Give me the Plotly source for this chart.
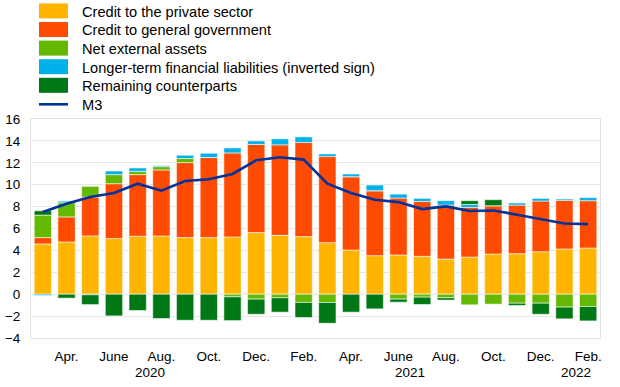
import plotly.graph_objects as go

months = ["Mar 2020", "Apr 2020", "May 2020", "Jun 2020", "Jul 2020", "Aug 2020",
          "Sep 2020", "Oct 2020", "Nov 2020", "Dec 2020", "Jan 2021", "Feb 2021",
          "Mar 2021", "Apr 2021", "May 2021", "Jun 2021", "Jul 2021", "Aug 2021",
          "Sep 2021", "Oct 2021", "Nov 2021", "Dec 2021", "Jan 2022", "Feb 2022"]

private_sector = [4.59, 4.77, 5.32, 5.08, 5.29, 5.32, 5.17, 5.17, 5.23, 5.63, 5.38, 5.26,
                  4.71, 4.04, 3.52, 3.58, 3.46, 3.21, 3.39, 3.67, 3.70, 3.88, 4.13, 4.22]
general_government = [0.58, 2.29, 3.55, 5.01, 5.63, 6.03, 6.85, 7.31, 7.67, 8.04, 8.26, 8.59,
                      7.86, 6.69, 5.93, 5.20, 5.01, 4.93, 4.54, 4.41, 4.44, 4.63, 4.44, 4.32]
net_external_assets = [2.05, 1.29, 0.98, 0.83, 0.30, 0.30, 0.37, 0.00, -0.24, -0.45, -0.33, -0.75,
                       -0.76, 0.00, 0.00, -0.45, -0.27, -0.33, -0.97, -0.91, -0.82, -0.82, -1.18, -1.12]
longer_term_liab = [-0.12, 0.15, -0.05, 0.33, 0.31, 0.09, 0.30, 0.39, 0.46, 0.33, 0.55, 0.52,
                    0.24, 0.25, 0.52, 0.36, 0.28, 0.40, 0.27, 0.00, 0.19, 0.24, 0.12, 0.28]
remaining = [0.40, -0.36, -0.90, -1.98, -1.49, -2.22, -2.38, -2.38, -2.17, -1.38, -1.31, -1.38,
             -1.89, -1.64, -1.34, -0.28, -0.67, -0.21, 0.34, 0.55, -0.21, -1.01, -1.07, -1.32]
m3 = [7.50, 8.25, 8.87, 9.24, 10.09, 9.45, 10.34, 10.49, 10.98, 12.23, 12.50, 12.29,
      10.09, 9.24, 8.62, 8.41, 7.77, 8.02, 7.60, 7.65, 7.26, 6.86, 6.46, 6.40]

tick_labels = ["Apr.", "June", "Aug.", "Oct.", "Dec.", "Feb.",
               "Apr.", "June", "Aug.", "Oct.", "Dec.", "Feb."]
years = ["2020", "2021", "2022"]
year_centers = [4.5, 15.5, 22.5]

series_names = ["Credit to the private sector", "Credit to general government",
                "Net external assets", "Longer-term financial liabilities (inverted sign)",
                "Remaining counterparts"]
series_values = [private_sector, general_government, net_external_assets,
                 longer_term_liab, remaining]
colors = ["#FFB400", "#FF4B00", "#65B800", "#00B1EA", "#007816"]
m3_color = "#003299"

x = list(range(len(months)))
FONT = "Liberation Sans, Arial, sans-serif"

fig = go.Figure()
for name, vals, col in zip(series_names, series_values, colors):
    fig.add_trace(go.Bar(x=x, y=vals, name=name, marker_color=col,
                         marker_line_color="rgba(255,255,255,0.7)", marker_line_width=0.8,
                         showlegend=False, hovertext=months))
fig.add_trace(go.Scatter(x=x, y=m3, name="M3", mode="lines",
                         line=dict(color=m3_color, width=2.6), showlegend=False))

W, H = 620, 387
L, R, T, B = 31, 20, 119, 49
pw, ph = W - L - R, H - T - B


def px(v):
    return (v - L) / pw


def py(v):
    return (H - B - v) / ph


shapes = []
annotations = []
row_text_y = [11.7, 30.3, 48.9, 67.5, 86.1, 104.5]
for i, (name, col) in enumerate(zip(series_names, colors)):
    cy = row_text_y[i] - 0.8
    shapes.append(dict(type="rect", xref="paper", yref="paper",
                       x0=px(39), x1=px(68), y0=py(cy + 7.5), y1=py(cy - 7.5),
                       fillcolor=col, line=dict(width=0)))
    annotations.append(dict(text=name, xref="paper", yref="paper", x=px(80), y=py(row_text_y[i]),
                            xanchor="left", yanchor="middle", showarrow=False,
                            font=dict(family=FONT, size=14.6, color="#000000")))
shapes.append(dict(type="line", xref="paper", yref="paper",
                   x0=px(39), x1=px(68), y0=py(104.3), y1=py(104.3),
                   line=dict(color=m3_color, width=2.6)))
annotations.append(dict(text="M3", xref="paper", yref="paper", x=px(80), y=py(row_text_y[5]),
                        xanchor="left", yanchor="middle", showarrow=False,
                        font=dict(family=FONT, size=14.6, color="#000000")))

for yr, xc in zip(years, year_centers):
    annotations.append(dict(text=yr, xref="x", yref="paper", x=xc, y=py(372),
                            xanchor="center", yanchor="middle", showarrow=False,
                            font=dict(family=FONT, size=13.5, color="#000000")))

fig.update_layout(
    width=W, height=H,
    margin=dict(l=L, r=R, t=T, b=B, pad=0, autoexpand=False),
    paper_bgcolor="white", plot_bgcolor="white",
    barmode="relative", bargap=0.27,
    font=dict(family=FONT, size=13.5, color="#000000"),
    shapes=shapes, annotations=annotations,
    xaxis=dict(range=[-0.5, len(months) - 0.5], tickvals=list(range(1, len(months), 2)),
               ticktext=tick_labels, showgrid=False, zeroline=False, automargin=False,
               showline=True, mirror=True, linecolor="#E3E3E3", linewidth=1,
               ticks="", ticklabelstandoff=6, tickfont=dict(size=13.5)),
    yaxis=dict(range=[-4, 16], dtick=2, tick0=0, showgrid=True, gridcolor="#E6E6E6", gridwidth=1,
               zeroline=False, showline=True, mirror=True, linecolor="#E3E3E3", linewidth=1,
               automargin=False, ticks="", ticklabelstandoff=7, tickfont=dict(size=13.5)),
)

fig.write_html("out.html", config={"displayModeBar": False},
               post_script="document.body.style.margin='0';")
